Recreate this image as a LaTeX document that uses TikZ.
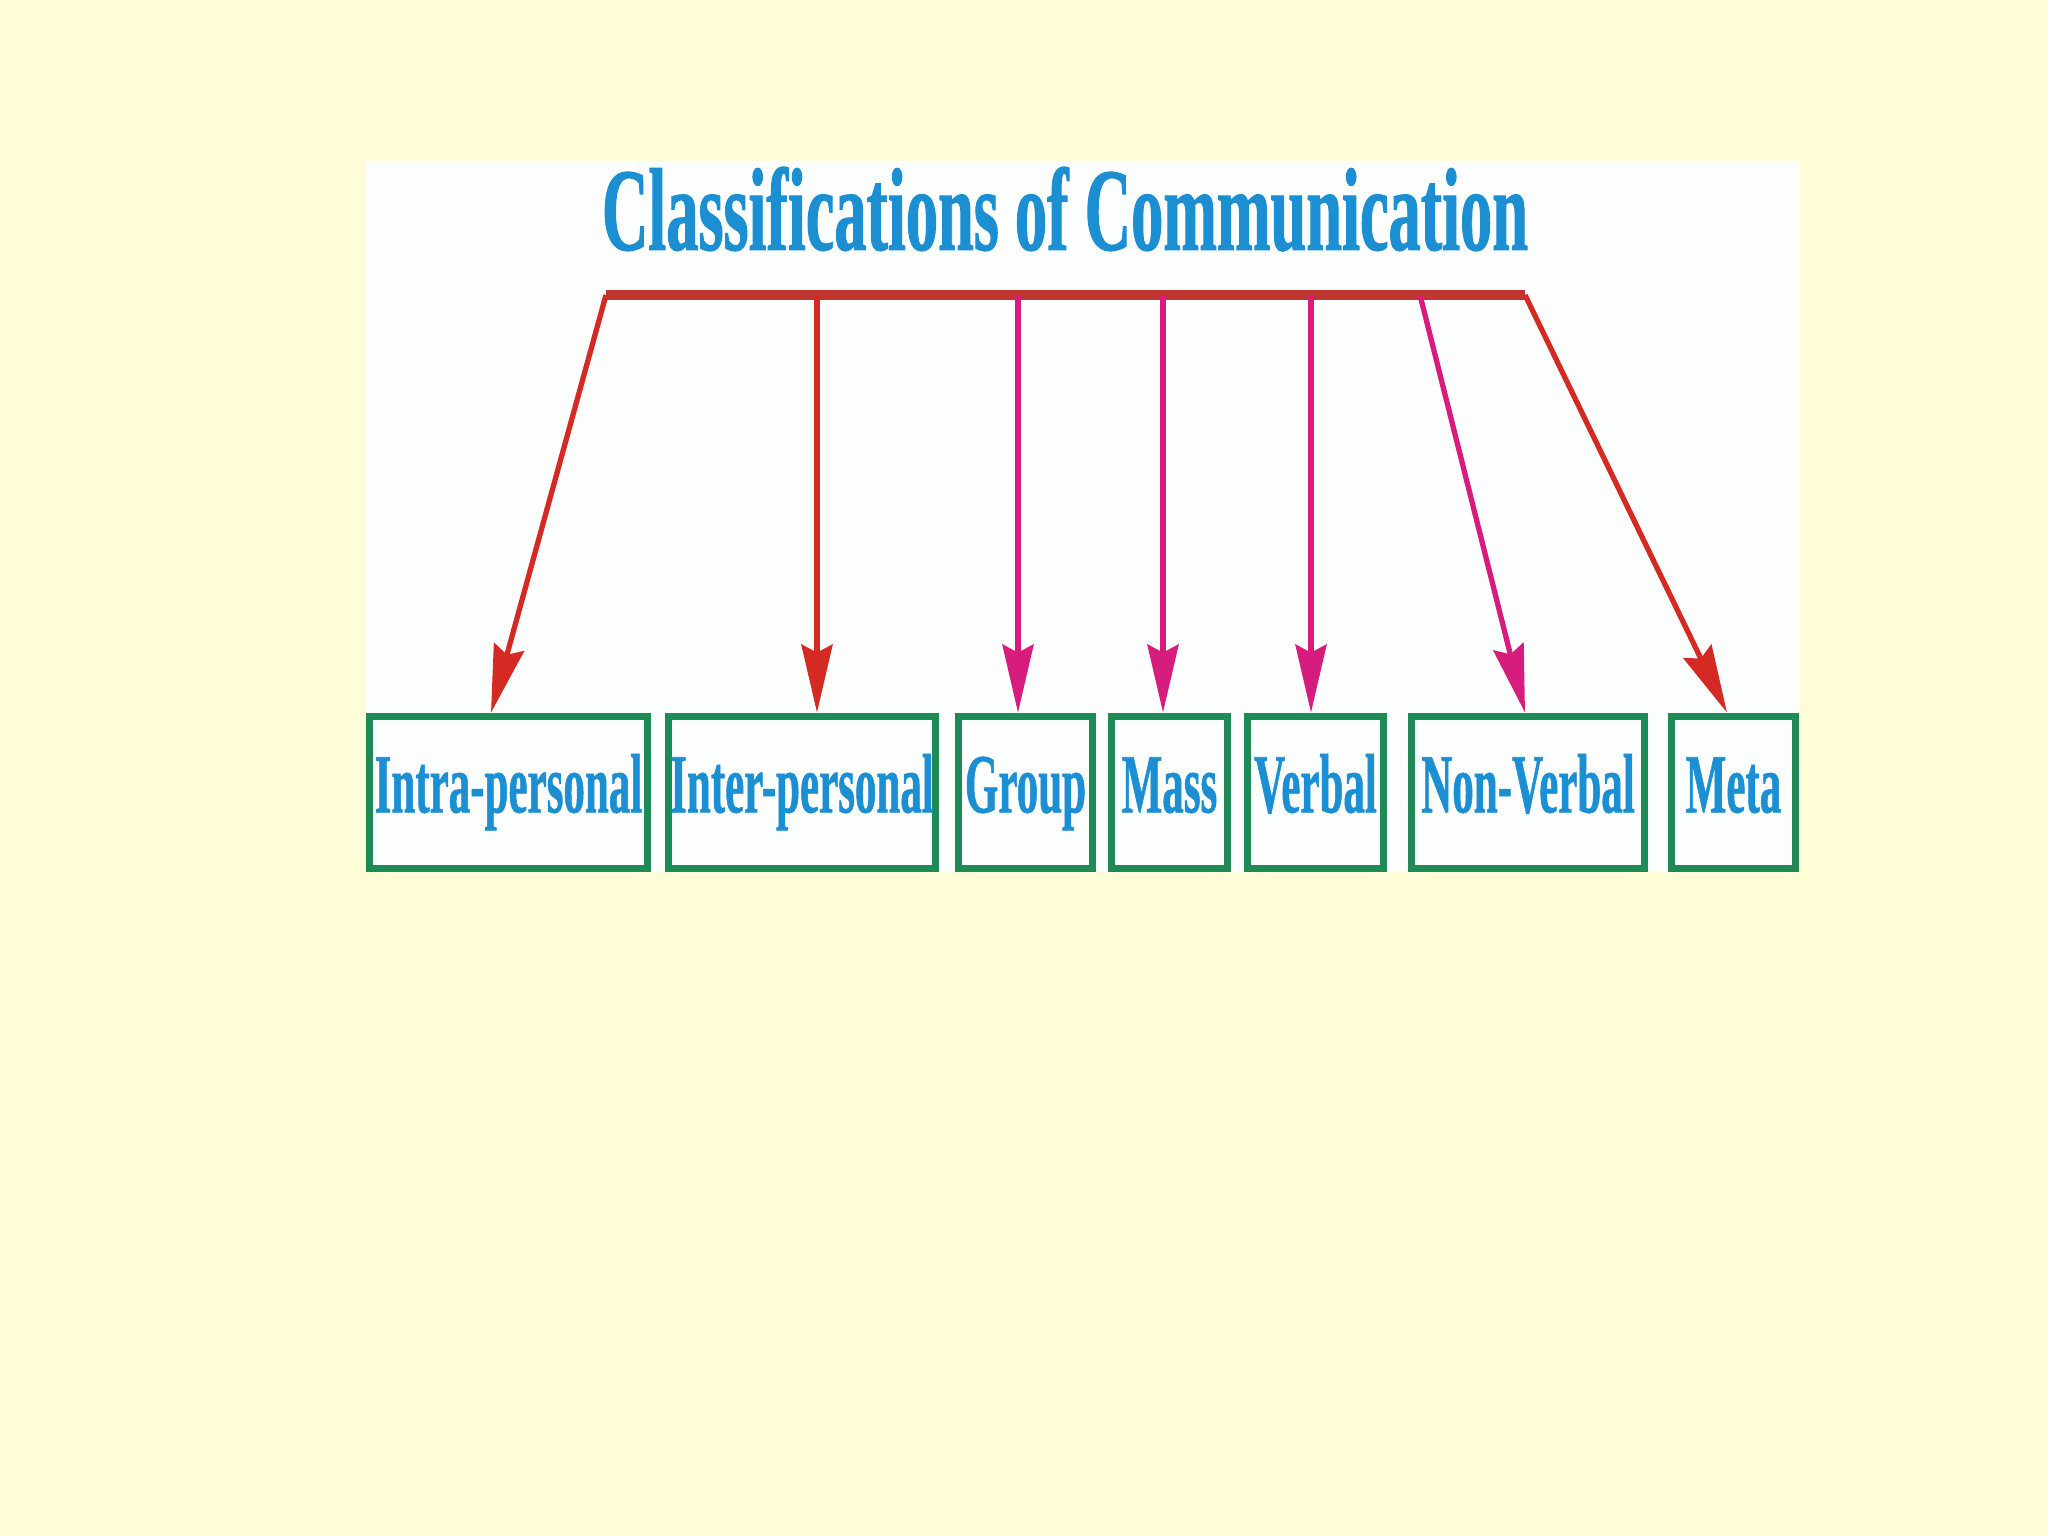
\documentclass[tikz,border=0pt]{standalone}
\usepackage{fontspec}
\usetikzlibrary{arrows.meta, positioning, calc}
\newfontfamily\titlefont[FakeStretch=0.545, FakeBold=0.8]{Liberation Serif}
\newfontfamily\labelfont[FakeStretch=0.51, FakeBold=0.6]{Liberation Serif}
\definecolor{bgyellow}{HTML}{FFFDD7}
\definecolor{panelwhite}{HTML}{FCFEFD}
\definecolor{titleblue}{HTML}{1B8FD2}
\definecolor{barred}{HTML}{C0352E}
\definecolor{arrowred}{HTML}{D42A24}
\definecolor{arrowpink}{HTML}{D61C7C}
\definecolor{boxgreen}{HTML}{1F8A55}

\begin{document}
\begin{tikzpicture}[
  redarrow/.style={arrowred, line width=1.5pt, -{Stealth[length=6.8mm, width=3.1mm, inset=0.8mm]}},
  pinkarrow/.style={arrowpink, line width=1.5pt, -{Stealth[length=6.8mm, width=3.1mm, inset=0.8mm]}},
  kindbox/.style={draw=boxgreen, fill=panelwhite, line width=2.2pt, inner sep=0pt,
    minimum height=1.52cm, text height=0.6cm, text depth=0.2cm,
    text=titleblue, font=\labelfont\bfseries\fontsize{24}{28}\selectfont},
  titletext/.style={text=titleblue, inner sep=0pt,
    font=\titlefont\bfseries\fontsize{33.6}{40}\selectfont}
]

% Background
\useasboundingbox (0,0) rectangle (20.48,15.36);
\fill[bgyellow] (0,0) rectangle (20.48,15.36);
\fill[panelwhite] (3.66,6.64) rectangle (18.00,13.75);

% Title (cut at the top of the white panel)
\begin{scope}
  \clip (3.66,6.64) rectangle (18.00,13.75);
  \node[titletext, anchor=base] (title) at (10.65,12.86) {Classifications of Communication};
\end{scope}

% Boxes
\node[kindbox, minimum width=2.78cm] (intra) at (5.085,7.435) {Intra-personal};
\node[kindbox, minimum width=2.67cm] (inter) at (8.02,7.435) {Inter-personal};
\node[kindbox, minimum width=1.34cm] (group) at (10.255,7.435) {Group};
\node[kindbox, minimum width=1.16cm] (mass) at (11.695,7.435) {Mass};
\node[kindbox, minimum width=1.36cm] (verbal) at (13.155,7.435) {Verbal};
\node[kindbox, minimum width=2.33cm] (nonverbal) at (15.28,7.435) {Non-Verbal};
\node[kindbox, minimum width=1.24cm] (meta) at (17.335,7.435) {Meta};

% Bar
\coordinate (barL) at (6.06,12.41);
\coordinate (barR) at (15.25,12.41);
\coordinate (nvstart) at (14.20,12.41);
\draw[barred, line width=2.6pt] (barL) -- (barR);

% Arrows
\coordinate (tipA) at ([xshift=-0.175cm]intra.north);
\coordinate (tipB) at ([xshift=0.15cm]inter.north);
\coordinate (tipC) at ([xshift=-0.075cm]group.north);
\coordinate (tipD) at ([xshift=-0.065cm]mass.north);
\coordinate (tipE) at ([xshift=-0.045cm]verbal.north);
\coordinate (tipF) at ([xshift=-0.03cm]nonverbal.north);
\coordinate (tipG) at ([xshift=-0.065cm]meta.north);

\draw[redarrow] (barL) -- (tipA);
\draw[redarrow] (tipB |- barL) -- (tipB);
\draw[pinkarrow] (tipC |- barL) -- (tipC);
\draw[pinkarrow] (tipD |- barL) -- (tipD);
\draw[pinkarrow] (tipE |- barL) -- (tipE);
\draw[pinkarrow] (nvstart) -- (tipF);
\draw[redarrow] (barR) -- (tipG);

\end{tikzpicture}
\end{document}
